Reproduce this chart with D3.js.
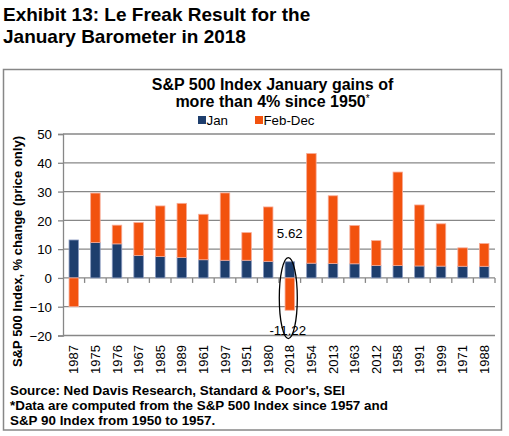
<!DOCTYPE html>
<html><head><meta charset="utf-8">
<script src="https://cdn.jsdelivr.net/npm/d3@7"></script>
<style>
html,body{margin:0;padding:0;background:#fff;}
svg{display:block;font-family:"Liberation Sans",Arial,sans-serif;}
</style></head>
<body>
<svg id="c" width="509" height="436"></svg>
<script>
const years = ["1987","1975","1976","1967","1985","1989","1961","1997","1951","1980","2018","1954","2013","1963","2012","1958","1991","1999","1971","1988"];
const janValues = [13.18,12.28,11.83,7.82,7.41,7.11,6.32,6.13,6.14,5.76,5.62,5.12,5.04,4.91,4.36,4.28,4.15,4.10,4.05,4.04];
const febDecValues = [-9.98,17.2,6.5,11.4,17.6,18.8,15.8,23.4,9.6,18.9,-11.22,38.1,23.5,13.3,8.6,32.5,21.2,14.7,6.4,7.9];
const yTicks = [-20,-10,0,10,20,30,40,50];
const seriesNames = ["Jan","Feb-Dec"];
const titleLines = ["Exhibit 13: Le Freak Result for the","January Barometer in 2018"];
const chartTitleLines = ["S&P 500 Index January gains of","more than 4% since 1950"];
const yAxisTitle = "S&P 500 Index, % change (price only)";
const sourceLines = ["Source: Ned Davis Research, Standard & Poor's, SEI","*Data are computed from the S&P 500 Index since 1957 and","S&P 90 Index from 1950 to 1957."];
const highlightYear = "2018";

const colors = {Jan:"#1e3e6d","Feb-Dec":"#f2520e"};
const strokes = {Jan:"#8b9bc0","Feb-Dec":"#f8ab96"};
const grid = "#878787";

const svg = d3.select("#c");
const L = 63, R = 495, T = 134, B = 335.5;

// main title
svg.append("g").selectAll("text").data(titleLines).join("text")
  .attr("x",3).attr("y",(d,i)=>21+i*22)
  .attr("font-size",19).attr("font-weight","bold").attr("fill","#000").text(d=>d);

// outer box
svg.append("rect").attr("x",3.5).attr("y",69.5).attr("width",498).attr("height",360.5)
  .attr("fill","none").attr("stroke",grid).attr("stroke-width",1.5);

// chart title
const ct = svg.append("g");
ct.append("text").attr("x",272.5).attr("y",90).attr("text-anchor","middle")
  .attr("font-size",16).attr("font-weight","bold").text(chartTitleLines[0]);
const t2 = ct.append("text").attr("x",272.5).attr("y",107).attr("text-anchor","middle")
  .attr("font-size",16).attr("font-weight","bold");
t2.append("tspan").text(chartTitleLines[1]);
t2.append("tspan").attr("font-size",10).attr("font-weight","normal").attr("dy",-5).text("*");

// legend
const lg = svg.append("g");
const legX = [198,255];
seriesNames.forEach((s,i)=>{
  lg.append("rect").attr("x",legX[i]).attr("y",116).attr("width",8).attr("height",8).attr("fill",colors[s]);
  lg.append("text").attr("x",legX[i]+8.5).attr("y",124.5).attr("font-size",13.3).text(s);
});

const x = d3.scaleBand().domain(years).range([L,R]).paddingInner(0.56).paddingOuter(0.28);
const xb = d3.scaleBand().domain(years).range([L,R]).padding(0);
const y = d3.scaleLinear().domain([-20,50]).range([B,T]);

// gridlines
svg.append("g").selectAll("line").data(yTicks).join("line")
  .attr("x1",L).attr("x2",R).attr("y1",d=>y(d)).attr("y2",d=>y(d))
  .attr("stroke",grid).attr("stroke-width",1.3);

// y axis
const ya = svg.append("g").attr("transform",`translate(${L},0)`)
  .call(d3.axisLeft(y).tickValues(yTicks).tickSize(5).tickPadding(6).tickFormat(d3.format("d")));
ya.select(".domain").attr("stroke",grid).attr("stroke-width",1.3);
ya.selectAll(".tick line").attr("stroke",grid).attr("stroke-width",1.3);
ya.selectAll(".tick text").attr("font-size",13.3).attr("fill","#000")
  .attr("font-family","'Liberation Sans',Arial,sans-serif").attr("x",-11).attr("dy","0.36em");

// bars
const stacked = years.map((yr,i)=>({year:yr,Jan:janValues[i],FD:febDecValues[i]}));
const bars = svg.append("g");
stacked.forEach(d=>{
  const segs = [];
  segs.push({s:"Jan",y0:0,y1:d.Jan});
  if(d.FD>=0) segs.push({s:"Feb-Dec",y0:d.Jan,y1:d.Jan+d.FD});
  else segs.push({s:"Feb-Dec",y0:0,y1:d.FD});
  segs.forEach(g=>{
    bars.append("rect")
      .attr("x",x(d.year)).attr("width",x.bandwidth())
      .attr("y",y(Math.max(g.y0,g.y1))).attr("height",Math.abs(y(g.y0)-y(g.y1)))
      .attr("fill",colors[g.s]).attr("stroke",strokes[g.s]).attr("stroke-width",0.8);
  });
});

// x category ticks on zero line
const bounds = years.slice(1).map(d=>xb(d)).concat([R]);
svg.append("g").selectAll("line").data(bounds).join("line")
  .attr("x1",d=>d).attr("x2",d=>d).attr("y1",y(0)).attr("y2",y(0)+5)
  .attr("stroke",grid).attr("stroke-width",1.3);

// x labels
svg.append("g").selectAll("text").data(years).join("text")
  .attr("transform",d=>`translate(${x(d)+x.bandwidth()/2+4.6},345) rotate(-90)`)
  .attr("text-anchor","end").attr("font-size",13).text(d=>d);

// y axis title
svg.append("text").attr("transform","translate(22,251.5) rotate(-90)")
  .attr("text-anchor","middle").attr("font-size",13).attr("font-weight","bold").text(yAxisTitle);

// highlight labels
const hi = years.indexOf(highlightYear);
const hx = x(highlightYear)+x.bandwidth()/2;
svg.append("text").attr("x",hx).attr("y",y(janValues[hi])-24).attr("text-anchor","middle")
  .attr("font-size",13.3).text(janValues[hi].toFixed(2));
svg.append("text").attr("x",hx-2).attr("y",335).attr("text-anchor","middle")
  .attr("font-size",13.3).text(febDecValues[hi].toFixed(2));
svg.append("ellipse").attr("cx",hx-1.5).attr("cy",y(-7)).attr("rx",9).attr("ry",40.5)
  .attr("fill","none").attr("stroke","#000").attr("stroke-width",1.3);

// source
svg.append("g").selectAll("text").data(sourceLines).join("text")
  .attr("x",10).attr("y",(d,i)=>395+i*14.8).attr("font-size",13.4).attr("font-weight","bold").text(d=>d);
</script>
</body></html>
